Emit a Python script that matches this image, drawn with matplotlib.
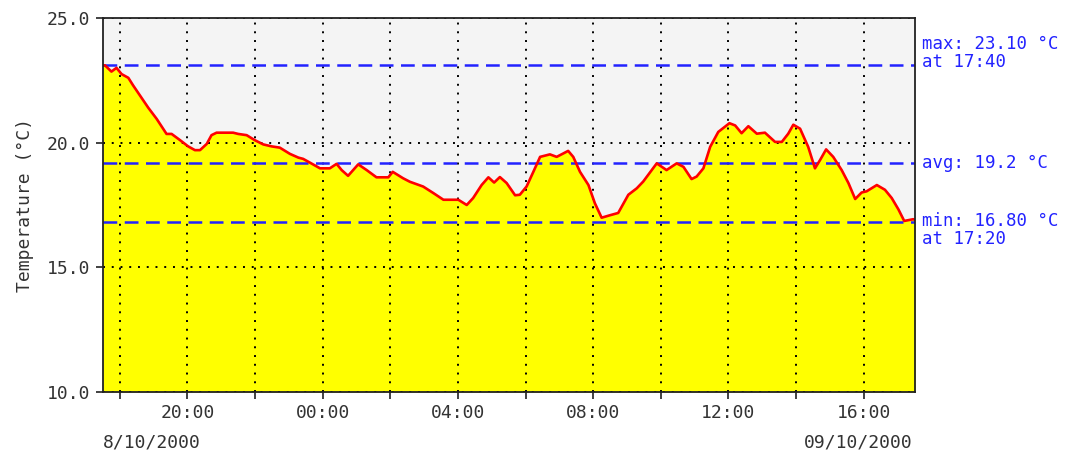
import matplotlib
matplotlib.use("Agg")
import matplotlib.pyplot as plt

# hours since 00:00 on 8/10/2000
hours = [17.50, 17.56, 17.75, 17.90, 18.05, 18.25, 18.39, 18.59, 18.84, 19.09,
         19.38, 19.53, 19.78, 20.02, 20.22, 20.37, 20.57, 20.71, 20.86, 21.35,
         21.50, 21.75, 21.99, 22.24, 22.49, 22.73, 23.03, 23.28, 23.42, 23.62,
         23.92, 24.21, 24.41, 24.56, 24.75, 25.05, 25.30, 25.59, 25.94, 26.07,
         26.38, 26.58, 26.97, 27.27, 27.57, 28.01, 28.26, 28.45, 28.70, 28.90,
         29.07, 29.24, 29.44, 29.69, 29.83, 30.03, 30.23, 30.43, 30.72, 30.92,
         31.12, 31.26, 31.41, 31.61, 31.86, 32.05, 32.25, 32.50, 32.74, 33.04,
         33.29, 33.48, 33.88, 34.17, 34.47, 34.67, 34.91, 35.06, 35.26, 35.46,
         35.70, 36.03, 36.20, 36.39, 36.59, 36.84, 37.08, 37.38, 37.58, 37.77,
         37.92, 38.12, 38.36, 38.56, 38.71, 38.89, 39.10, 39.35, 39.55, 39.75,
         39.94, 40.09, 40.39, 40.63, 40.83, 41.03, 41.20, 41.47, 41.52]
temps = [23.10, 23.10, 22.85, 23.00, 22.75, 22.60, 22.30, 21.90, 21.40, 20.95,
         20.35, 20.35, 20.10, 19.85, 19.70, 19.70, 19.95, 20.30, 20.40, 20.40,
         20.35, 20.30, 20.10, 19.93, 19.85, 19.80, 19.55, 19.40, 19.35, 19.20,
         18.97, 18.97, 19.15, 18.90, 18.67, 19.13, 18.90, 18.61, 18.61, 18.83,
         18.57, 18.43, 18.24, 17.98, 17.71, 17.71, 17.50, 17.78, 18.30, 18.61,
         18.40, 18.62, 18.38, 17.89, 17.91, 18.24, 18.83, 19.43, 19.53, 19.43,
         19.57, 19.67, 19.43, 18.83, 18.30, 17.57, 16.99, 17.09, 17.18, 17.91,
         18.17, 18.44, 19.17, 18.90, 19.17, 19.03, 18.54, 18.64, 18.97, 19.83,
         20.43, 20.78, 20.69, 20.38, 20.66, 20.36, 20.40, 20.03, 20.03, 20.36,
         20.72, 20.56, 19.83, 18.97, 19.30, 19.73, 19.43, 18.90, 18.38, 17.74,
         18.00, 18.05, 18.30, 18.11, 17.78, 17.32, 16.86, 16.93, 16.90]

t_max, t_avg, t_min = 23.10, 19.2, 16.80
stat_labels = ["max: 23.10 °C\nat 17:40", "avg: 19.2 °C", "min: 16.80 °C\nat 17:20"]

x_ticks = list(range(18, 41, 2))
x_labels = {20: "20:00", 24: "00:00", 28: "04:00", 32: "08:00", 36: "12:00", 40: "16:00"}
y_ticks = [10, 15, 20, 25]
date_left, date_right = "8/10/2000", "09/10/2000"

plt.rcParams['font.family'] = ['DejaVu Sans Mono']
text_col = '#333333'
blue = '#2222ff'

fig = plt.figure(figsize=(10.76, 4.59), dpi=100)
ax = fig.add_axes([0.0957, 0.146, 0.7547, 0.8148])
ax.set_facecolor('#f4f4f4')

ax.fill_between(hours, temps, 10, color='#ffff00', zorder=1, linewidth=0)
ax.grid(True, color='black', linestyle=(0, (1, 3.5)), linewidth=1.4, zorder=2)
for v in (t_max, t_avg, t_min):
    ax.axhline(v, color=blue, linestyle=(0, (5.5, 3)), linewidth=1.8, zorder=3)
ax.plot(hours, temps, color='#ff0000', linewidth=1.9, zorder=4)

ax.set_xlim(17.5, 41.52)
ax.set_ylim(10, 25)
ax.set_xticks(x_ticks)
ax.set_xticklabels([x_labels.get(h, "") for h in x_ticks])
ax.set_yticks(y_ticks)
ax.set_yticklabels([f"{v:.1f}" for v in y_ticks])
ax.tick_params(axis='both', direction='out', length=5, width=1.3, color=text_col,
               labelsize=13, labelcolor=text_col, pad=4)
ax.set_axisbelow(False)
for s in ax.spines.values():
    s.set_linewidth(1.3)
    s.set_color('#222222')
    s.set_zorder(5)

ax.set_ylabel("Temperature (°C)", fontsize=13, color=text_col, labelpad=9)

ax.text(0.0, -0.135, date_left, transform=ax.transAxes, fontsize=13,
        color=text_col, ha='left', va='center')
ax.text(0.997, -0.135, date_right, transform=ax.transAxes, fontsize=13,
        color=text_col, ha='right', va='center')

trans = ax.get_yaxis_transform()
ax.text(1.009, t_max + 0.5, stat_labels[0], transform=trans, fontsize=12.5,
        color=blue, ha='left', va='center', linespacing=0.95)
ax.text(1.009, t_avg, stat_labels[1], transform=trans, fontsize=12.5,
        color=blue, ha='left', va='center')
ax.text(1.009, t_min - 0.3, stat_labels[2], transform=trans, fontsize=12.5,
        color=blue, ha='left', va='center', linespacing=0.95)

fig.savefig("out.png", dpi=100, facecolor='white')
